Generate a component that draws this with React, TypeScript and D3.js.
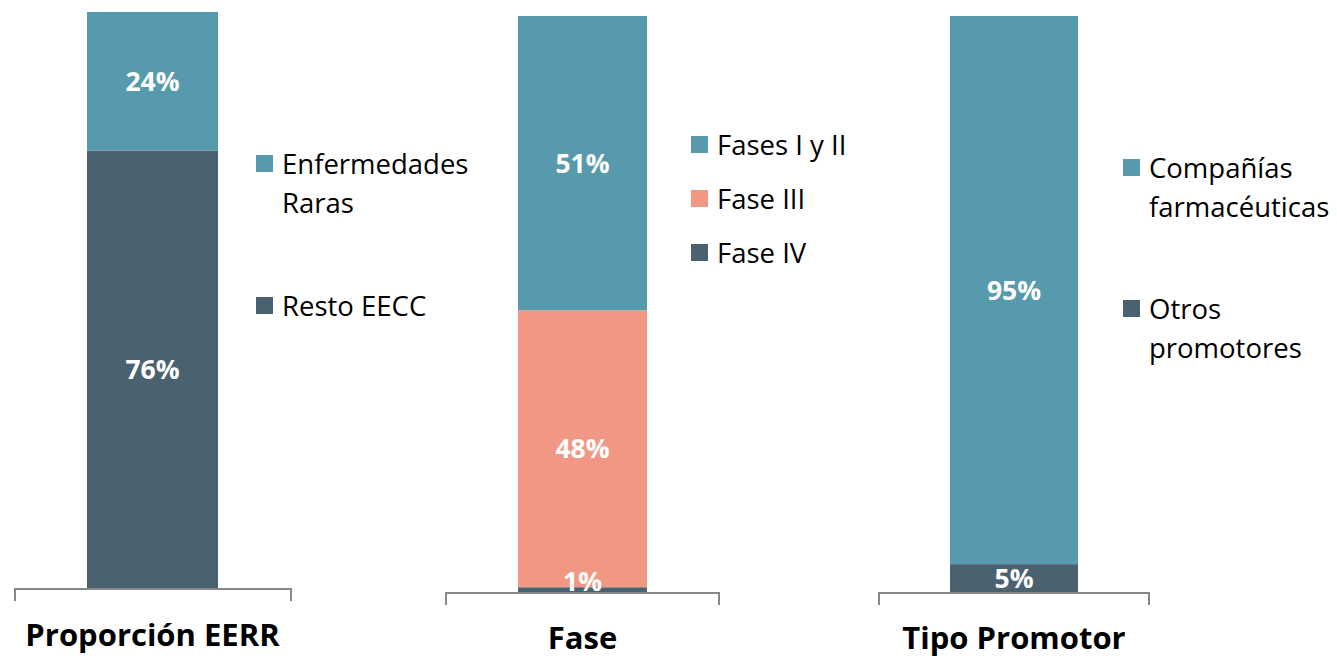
import React from "react";
import * as d3 from "d3";

// Panel titles
const panelTitles = ["Proporción EERR", "Fase", "Tipo Promotor"];

// Segment names per panel (bottom → top)
const proporcionSeries = ["Resto EECC", "Enfermedades Raras"];
const proporcionValues = [76, 24];

const faseSeries = ["Fase IV", "Fase III", "Fases I y II"];
const faseValues = [1, 48, 51];

const promotorSeries = ["Otros promotores", "Compañías farmacéuticas"];
const promotorValues = [5, 95];

// Legend entries (top → bottom), with line breaks
const proporcionLegend = [["Enfermedades", "Raras"], ["Resto EECC"]];
const faseLegend = [["Fases I y II"], ["Fase III"], ["Fase IV"]];
const promotorLegend = [["Compañías", "farmacéuticas"], ["Otros", "promotores"]];

const COLORS: Record<string, string> = {
  "Enfermedades Raras": "#5799ad",
  "Resto EECC": "#4a6270",
  "Fases I y II": "#5799ad",
  "Fase III": "#f19885",
  "Fase IV": "#4a6270",
  "Compañías farmacéuticas": "#5799ad",
  "Otros promotores": "#4a6270",
};

const FONT = "'Open Sans', 'DejaVu Sans', sans-serif";

type Panel = {
  title: string;
  series: string[];
  values: number[];
  legend: string[][];
  barX: number;
  barW: number;
  top: number;
  bottom: number;
  axisX0: number;
  axisX1: number;
  legendX: number;
  legendY: number;
  legendGap: number;
  titleY: number;
};

const panels: Panel[] = [
  {
    title: panelTitles[0], series: proporcionSeries, values: proporcionValues, legend: proporcionLegend,
    barX: 87, barW: 131, top: 12, bottom: 589, axisX0: 15, axisX1: 291,
    legendX: 256, legendY: 174, legendGap: 142, titleY: 646,
  },
  {
    title: panelTitles[1], series: faseSeries, values: faseValues, legend: faseLegend,
    barX: 518, barW: 129, top: 16, bottom: 593, axisX0: 446, axisX1: 719,
    legendX: 691, legendY: 155, legendGap: 54, titleY: 649,
  },
  {
    title: panelTitles[2], series: promotorSeries, values: promotorValues, legend: promotorLegend,
    barX: 950, barW: 128, top: 16, bottom: 593, axisX0: 879, axisX1: 1149,
    legendX: 1123, legendY: 178, legendGap: 141, titleY: 649,
  },
];

const LINE_H = 39;

function StackPanel({ p }: { p: Panel }) {
  const y = d3.scaleLinear().domain([0, 100]).range([p.bottom, p.top]);
  const cum = d3.cumsum(p.values);
  const segs = p.values.map((v, i) => ({
    name: p.series[i],
    value: v,
    y0: y(cum[i] - v),
    y1: y(cum[i]),
  }));
  const cx = p.barX + p.barW / 2;
  return (
    <g>
      {segs.map((s) => (
        <rect key={s.name} x={p.barX} width={p.barW} y={s.y1} height={s.y0 - s.y1} fill={COLORS[s.name]} />
      ))}
      {segs.map((s) => {
        const mid = (s.y0 + s.y1) / 2;
        // thin segments get their label lifted so it stays readable
        const ly = Math.min(mid, s.y0 - 12);
        return (
          <text key={s.name + "l"} x={cx} y={ly} dy="0.36em" textAnchor="middle"
            fill="#ffffff" fontFamily={FONT} fontWeight={700} fontSize={26.5}>
            {`${s.value}%`}
          </text>
        );
      })}
      <path
        d={`M${p.axisX0},${p.bottom + 12}V${p.bottom}H${p.axisX1}V${p.bottom + 12}`}
        fill="none" stroke="#878787" strokeWidth={2}
      />
      <text x={cx} y={p.titleY} textAnchor="middle" fontFamily={FONT} fontWeight={700}
        fontSize={31} fill="#000">
        {p.title}
      </text>
      {p.legend.map((lines, i) => {
        const by = p.legendY + i * p.legendGap;
        const name = p.series[p.series.length - 1 - i];
        return (
          <g key={name}>
            <rect x={p.legendX} y={by - 19} width={17} height={17} fill={COLORS[name]} />
            {lines.map((ln, j) => (
              <text key={ln} x={p.legendX + 26} y={by + j * LINE_H} fontFamily={FONT}
                fontSize={27.5} fill="#000">
                {ln}
              </text>
            ))}
          </g>
        );
      })}
    </g>
  );
}

export default function App() {
  return (
    <svg width={1337} height={658} style={{ position: "absolute", left: 0, top: 0, background: "#fff" }}>
      <rect width={1337} height={658} fill="#fff" />
      {panels.map((p) => (
        <StackPanel key={p.title} p={p} />
      ))}
    </svg>
  );
}
